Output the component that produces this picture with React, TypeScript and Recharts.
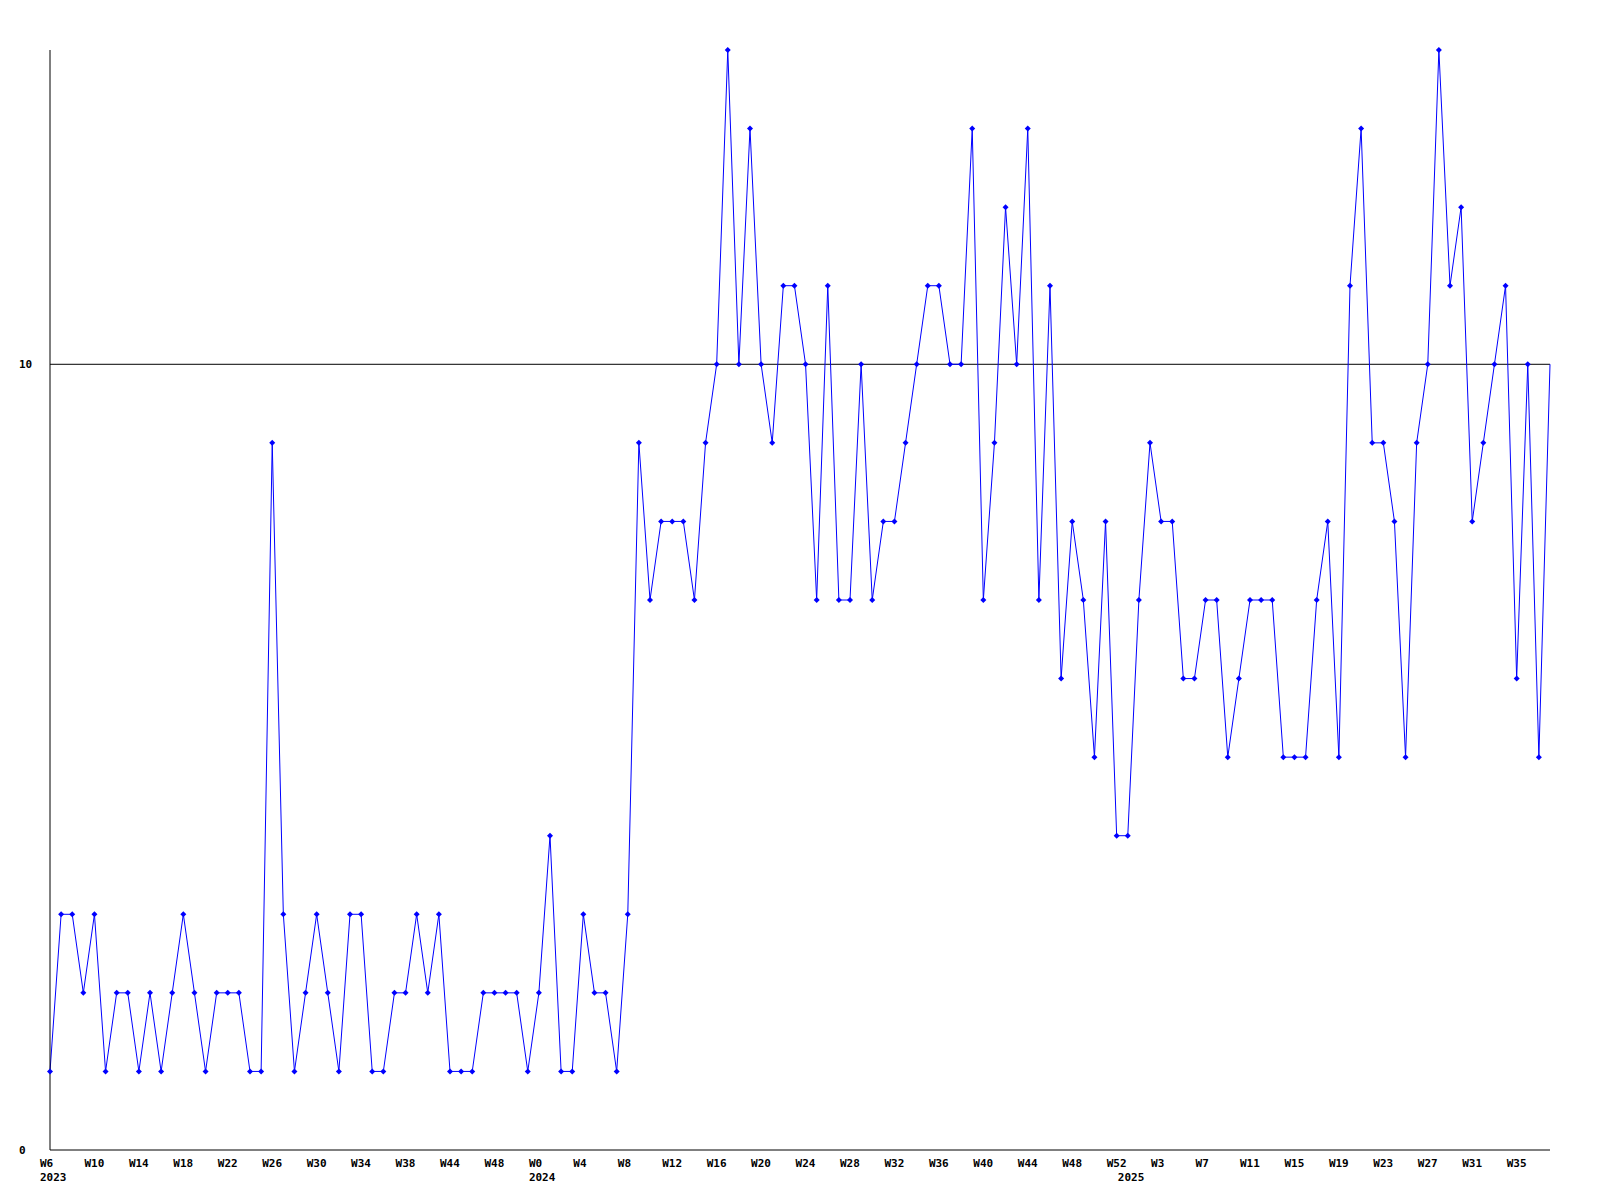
import { LineChart, Line, XAxis, YAxis, ReferenceLine } from "recharts";

// weekly counts, one per point
const values = [
  1, 3, 3, 2, 3, 1, 2, 2, 1, 2, 1, 2, 3, 2, 1, 2, 2, 2, 1, 1,
  9, 3, 1, 2, 3, 2, 1, 3, 3, 1, 1, 2, 2, 3, 2, 3, 1, 1, 1, 2,
  2, 2, 2, 1, 2, 4, 1, 1, 3, 2, 2, 1, 3, 9, 7, 8, 8, 8, 7, 9,
  10, 14, 10, 13, 10, 9, 11, 11, 10, 7, 11, 7, 7, 10, 7, 8, 8, 9, 10, 11,
  11, 10, 10, 13, 7, 9, 12, 10, 13, 7, 11, 6, 8, 7, 5, 8, 4, 4, 7, 9,
  8, 8, 6, 6, 7, 7, 5, 6, 7, 7, 7, 5, 5, 5, 7, 8, 5, 11, 13, 9,
  9, 8, 5, 9, 10, 14, 11, 12, 8, 9, 10, 11, 6, 10, 5, 10
];

// a label every 4th point
const weekLabels = [
  "W6", "W10", "W14", "W18", "W22", "W26", "W30", "W34", "W38", "W44",
  "W48", "W0", "W4", "W8", "W12", "W16", "W20", "W24", "W28", "W32",
  "W36", "W40", "W44", "W48", "W52", "W3", "W7", "W11", "W15", "W19",
  "W23", "W27", "W31", "W35"
];

const yearPoints = [0, 44, 97];
const yearLabels = ["2023", "2024", "2025"];

const yTicks = [0, 10];

const data = values.map((v, i) => ({ i, v }));

const font = {
  fontFamily: "'DejaVu Sans Mono', monospace",
  fontWeight: "bold" as const,
  fontSize: 11,
  fill: "#000"
};

function WeekTick(props: any) {
  const { x, y, payload } = props;
  const i = payload.value as number;
  const week = i % 4 === 0 ? weekLabels[i / 4] : null;
  const yi = yearPoints.indexOf(i);
  if (!week && yi < 0) return <g />;
  return (
    <g>
      {week && (
        <text x={x - 10} y={y + 17} textAnchor="start" {...font}>
          {week}
        </text>
      )}
      {yi >= 0 && (
        <text x={x - 10} y={y + 31} textAnchor="start" {...font}>
          {yearLabels[yi]}
        </text>
      )}
    </g>
  );
}

function ValueTick(props: any) {
  const { x, y, payload } = props;
  return (
    <text x={x - 31} y={y + 4} textAnchor="start" {...font}>
      {payload.value}
    </text>
  );
}

function Marker(props: any) {
  const { cx, cy, index } = props;
  // the last (current) week has no marker
  if (index === values.length - 1) return <g key={index} />;
  return (
    <path
      key={index}
      d={`M${cx},${cy - 3}L${cx + 3},${cy}L${cx},${cy + 3}L${cx - 3},${cy}Z`}
      fill="#0000ff"
    />
  );
}

export default function App() {
  return (
    <div style={{ width: 1584, height: 1184, background: "#fff" }}>
      <LineChart
        width={1584}
        height={1184}
        data={data}
        margin={{ top: 42, right: 42, bottom: 2, left: 0 }}
      >
        <XAxis
          dataKey="i"
          type="category"
          scale="point"
          interval={0}
          tickLine={false}
          tickSize={0}
          tickMargin={0}
          height={40}
          axisLine={{ stroke: "#000", strokeWidth: 1 }}
          tick={<WeekTick />}
        />
        <YAxis
          domain={[0, 14]}
          ticks={yTicks}
          width={42}
          tickLine={false}
          tickSize={0}
          tickMargin={0}
          axisLine={{ stroke: "#000", strokeWidth: 1 }}
          tick={<ValueTick />}
        />
        <ReferenceLine y={10} stroke="#000" strokeWidth={1} />
        <Line
          type="linear"
          dataKey="v"
          stroke="#0000ff"
          strokeWidth={1}
          dot={<Marker />}
          activeDot={false}
          isAnimationActive={false}
        />
      </LineChart>
    </div>
  );
}
